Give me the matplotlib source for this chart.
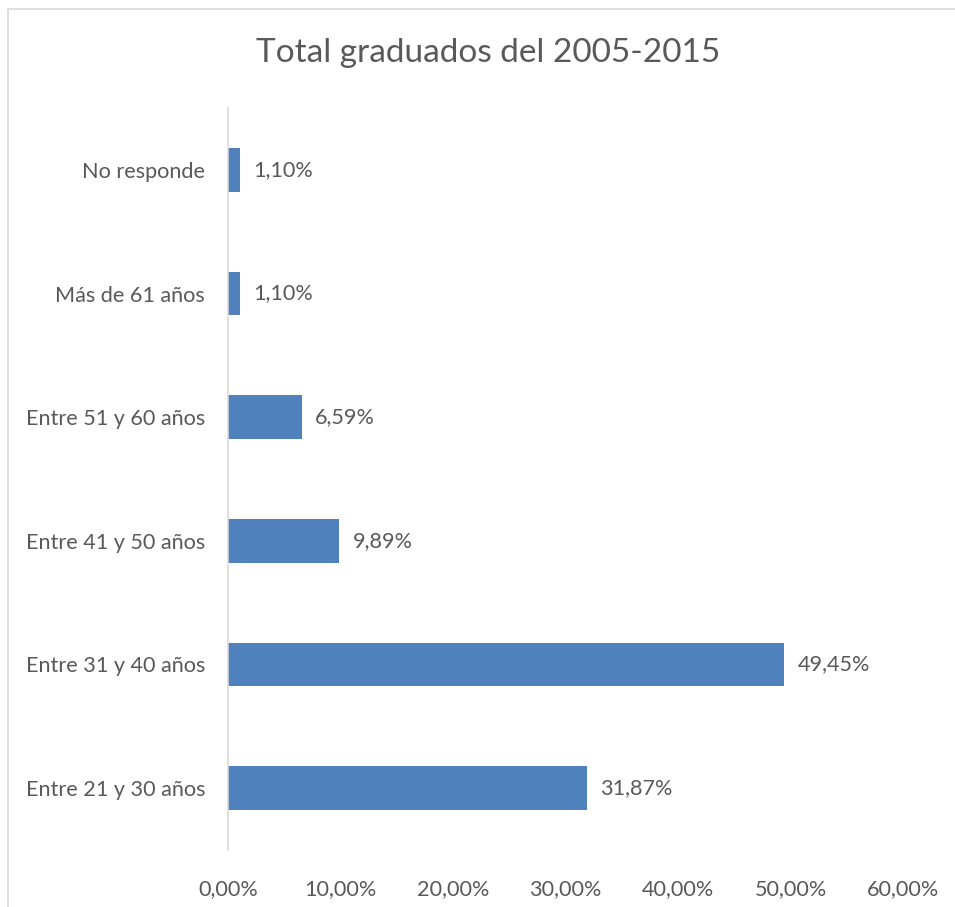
import matplotlib
matplotlib.use("Agg")
import matplotlib.pyplot as plt
from matplotlib.patches import Rectangle

# Data
categories = ["Entre 21 y 30 años", "Entre 31 y 40 años", "Entre 41 y 50 años",
              "Entre 51 y 60 años", "Más de 61 años", "No responde"]
values = [31.87, 49.45, 9.89, 6.59, 1.10, 1.10]
xticks = [0, 10, 20, 30, 40, 50, 60]
title = "Total graduados del 2005-2015"

plt.rcParams['font.family'] = ['Lato', 'DejaVu Sans']
text_color = "#595959"
bar_color = "#4F81BD"
line_color = "#D9D9D9"
label_size = 15.6

W, H = 955, 907
fig = plt.figure(figsize=(W / 100, H / 100), dpi=100)
ax = fig.add_axes([228 / W, (H - 850) / H, (903 - 228) / W, (850 - 108) / H])

# outer chart frame (right/bottom edges fall outside the image)
fig.patches.append(Rectangle((8 / W, -0.1), 1.2, 1.1 - 9 / H, transform=fig.transFigure,
                             fill=False, edgecolor=line_color, linewidth=1.2))

ypos = list(range(len(categories)))
ax.barh(ypos, values, height=0.355, color=bar_color)

for y, v in zip(ypos, values):
    ax.annotate(f"{v:.2f}%".replace(".", ","), (v, y), xytext=(9.5, 0),
                textcoords="offset points", va="center", ha="left",
                fontsize=label_size, color=text_color)

ax.set_xlim(0, 60)
ax.set_ylim(-0.5, len(categories) - 0.5)
ax.set_xticks(xticks)
ax.set_xticklabels([f"{t:.2f}%".replace(".", ",") for t in xticks])
ax.set_yticks(ypos)
ax.set_yticklabels(categories)
ax.tick_params(axis="both", length=0, labelsize=label_size, labelcolor=text_color)
ax.tick_params(axis="x", pad=21)
ax.tick_params(axis="y", pad=16.5)

for side in ["top", "right", "bottom"]:
    ax.spines[side].set_visible(False)
ax.spines["left"].set_color(line_color)
ax.spines["left"].set_linewidth(1.2)

fig.text(488 / W, 1 - 53 / H, title, ha="center", va="center",
         fontsize=24, color=text_color)

fig.savefig("out.png", dpi=100)
